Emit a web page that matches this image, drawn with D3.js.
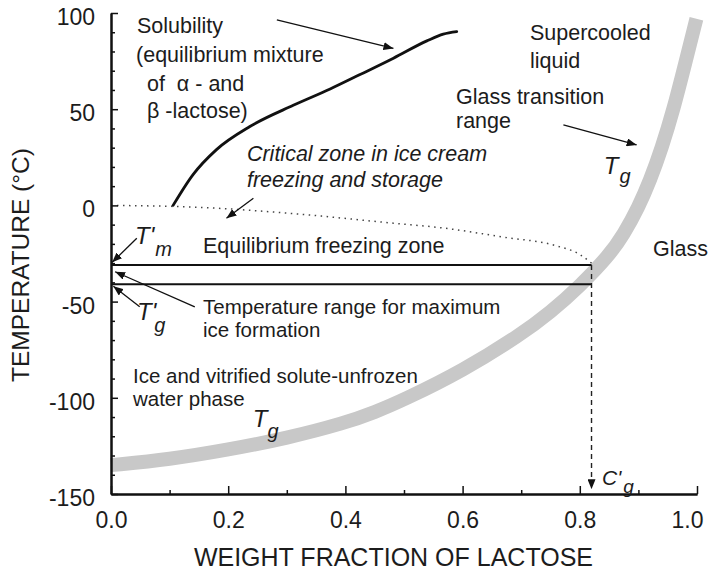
<!DOCTYPE html>
<html><head><meta charset="utf-8">
<script src="https://cdn.jsdelivr.net/npm/d3@7"></script>
<style>
body{margin:0;background:#fff}
text{font-family:"Liberation Sans",Arial,sans-serif;fill:#1c1c1c}
</style>
</head><body>
<svg id="chart" width="713" height="574"></svg>
<script>
// ---- data ----
const solubilityX = [0.106,0.140,0.180,0.237,0.311,0.374,0.425,0.482,0.539,0.567,0.590];
const solubilityY = [0,16,29,41,52,60.5,68,76.5,85.5,89,90.3];
const tgX = [0.0,0.1,0.2,0.3,0.4,0.45,0.5,0.6,0.7,0.75,0.8,0.85,0.875,0.9,0.92,0.94,0.96,0.98,0.999];
const tgY = [-135,-132,-127,-121,-113,-107.5,-101,-86,-67,-55.5,-42,-26,-15,-1,13,30,50,74,97];
const criticalX = [0,0.15,0.32,0.49,0.56,0.67,0.76,0.80,0.82];
const criticalY = [0,-1,-4.5,-9.5,-11.5,-16.5,-21,-25.5,-30];
const tmPrime = -31;      // T'm
const tgPrime = -41;      // T'g
const cgPrime = 0.82;     // C'g
const cgArrowEnd = -147.5;
const xMajor = [0,0.2,0.4,0.6,0.8,1.0];
const xMajorLabels = ["0.0","0.2","0.4","0.6","0.8","1.0"];
const xMinor = [0.1,0.3,0.5,0.7,0.9];
const yMajor = [-150,-100,-50,0,50,100];
const yMajorLabels = ["-150","-100","-50","0","50","100"];
const yMinor = d3.range(-140,100,10).filter(v => v % 50 !== 0);
const xTitle = "WEIGHT FRACTION OF LACTOSE";
const yTitle = "TEMPERATURE (°C)";

// annotation texts anchored in data coordinates
const notes = [
  {t:"Solubility", x:0.0444, y:89.6},
  {t:"(equilibrium mixture", x:0.0427, y:74.5},
  {t:"of  α - and", x:0.0614, y:59.5},
  {t:"β -lactose)", x:0.0614, y:45.4},
  {t:"Supercooled", x:0.715, y:86.0},
  {t:"liquid", x:0.715, y:71.4},
  {t:"Glass transition", x:0.5887, y:52.7},
  {t:"range", x:0.5887, y:40.2},
  {t:"Critical zone in ice cream", x:0.232, y:23.3, it:true},
  {t:"freezing and storage", x:0.232, y:9.6, it:true},
  {t:"Equilibrium freezing zone", x:0.157, y:-24.7},
  {t:"Glass", x:0.925, y:-26.3},
  {t:"Temperature range for maximum", x:0.157, y:-56.4, s:true},
  {t:"ice formation", x:0.157, y:-68.4, s:true},
  {t:"Ice and vitrified solute-unfrozen", x:0.0375, y:-92.4, s:true},
  {t:"water phase", x:0.0375, y:-104.3, s:true}
];
// symbol labels: main part and subscript offsets (px)
const symbols = [
  {main:"T'", sub:"m", x:0.041, y:-20.2, dx:1, dy:12},
  {main:"T'", sub:"g", x:0.0444, y:-59.6, dx:-2, dy:12},
  {main:"T", sub:"g", x:0.841, y:16.3, dx:1, dy:9},
  {main:"T", sub:"g", x:0.242, y:-115.2, dx:0, dy:11},
  {main:"C'", sub:"g", x:0.838, y:-145.4, dx:2, dy:8, small:true}
];
// arrows [x1,y1,x2,y2] in data units
const arrows = [
  [0.283,96.4,0.482,81.6],
  [0.772,41.8,0.897,31.4],
  [0.243,3.7,0.197,-6.7],
  [0.044,-17.1,0.002,-29.6],
  [0.143,-52.7,0.007,-34.5],
  [0.049,-52.7,0.004,-42.0]
];

// ---- chart ----
const W = 713, H = 574;
const m = {left:111, right:16, top:13, bottom:80};
const svg = d3.select("#chart");
svg.append("rect").attr("width",W).attr("height",H).attr("fill","#fff");

const x = d3.scaleLinear().domain([0,1]).range([m.left, W-m.right]);
const y = d3.scaleLinear().domain([-150,100]).range([H-m.bottom, m.top]);

const defs = svg.append("defs");
defs.append("marker").attr("id","ah").attr("markerUnits","userSpaceOnUse")
  .attr("viewBox","0 0 10 8").attr("refX",10).attr("refY",4)
  .attr("markerWidth",10).attr("markerHeight",8).attr("orient","auto")
  .append("path").attr("d","M0,0 L10,4 L0,8 Z").attr("fill","#111");

// glass transition band
const tgData = tgX.map((v,i)=>[v,tgY[i]]);
svg.append("path").datum(tgData)
  .attr("d", d3.line().x(d=>x(d[0])).y(d=>y(d[1])).curve(d3.curveBasis))
  .attr("fill","none").attr("stroke","#c8c8c8").attr("stroke-width",14).attr("stroke-linecap","butt");

// dotted critical-zone curve
const critData = criticalX.map((v,i)=>[v,criticalY[i]]);
svg.append("path").datum(critData)
  .attr("d", d3.line().x(d=>x(d[0])).y(d=>y(d[1])).curve(d3.curveMonotoneX))
  .attr("fill","none").attr("stroke","#444").attr("stroke-width",1.5).attr("stroke-dasharray","1.5,4.5");

// solubility curve
const solData = solubilityX.map((v,i)=>[v,solubilityY[i]]);
svg.append("path").datum(solData)
  .attr("d", d3.line().x(d=>x(d[0])).y(d=>y(d[1])).curve(d3.curveMonotoneX))
  .attr("fill","none").attr("stroke","#111").attr("stroke-width",2.8).attr("stroke-linecap","round");

// horizontal lines T'm and T'g
[tmPrime, tgPrime].forEach(v=>{
  svg.append("line").attr("x1",x(0)).attr("x2",x(cgPrime)).attr("y1",y(v)).attr("y2",y(v))
    .attr("stroke","#111").attr("stroke-width",2);
});
// dashed vertical to C'g
svg.append("line").attr("x1",x(cgPrime)).attr("x2",x(cgPrime)).attr("y1",y(tmPrime)).attr("y2",y(cgArrowEnd))
  .attr("stroke","#222").attr("stroke-width",1.4).attr("stroke-dasharray","5,4").attr("marker-end","url(#ah)");

// arrows
arrows.forEach(a=>{
  svg.append("line").attr("x1",x(a[0])).attr("y1",y(a[1])).attr("x2",x(a[2])).attr("y2",y(a[3]))
    .attr("stroke","#111").attr("stroke-width",1.3).attr("marker-end","url(#ah)");
});

// axes
const gy = svg.append("g").attr("transform",`translate(${m.left},0)`);
gy.call(d3.axisLeft(y).tickValues(yMinor).tickSize(-4).tickSizeOuter(0).tickFormat(""));
gy.append("g").call(d3.axisLeft(y).tickValues(yMajor).tickSize(-7).tickSizeOuter(0).tickPadding(16)
  .tickFormat((d,i)=>yMajorLabels[i]));
const gx = svg.append("g").attr("transform",`translate(0,${H-m.bottom})`);
gx.call(d3.axisBottom(x).tickValues(xMinor).tickSize(-4).tickSizeOuter(0).tickFormat(""));
gx.append("g").call(d3.axisBottom(x).tickValues(xMajor).tickSize(-8).tickSizeOuter(0).tickPadding(18)
  .tickFormat((d,i)=>xMajorLabels[i]));
svg.selectAll(".domain").attr("stroke","#111").attr("stroke-width",2);
svg.selectAll(".tick line").attr("stroke","#111").attr("stroke-width",1.5);
svg.selectAll(".tick text").attr("font-family",'"Liberation Sans",Arial,sans-serif')
  .attr("font-size",23).attr("fill","#1c1c1c");
gy.selectAll(".tick text").attr("dy","11.5");
gx.selectAll(".tick text").filter(d=>d===1).attr("dx",-10);

// axis titles
svg.append("text").attr("x",x(0.482)).attr("y",566).attr("text-anchor","middle")
  .attr("font-size",25).text(xTitle);
svg.append("text").attr("transform",`translate(29,${y(-31)}) rotate(-90)`).attr("text-anchor","middle")
  .attr("font-size",24.5).text(yTitle);

// annotation texts
notes.forEach(n=>{
  svg.append("text").attr("x",x(n.x)).attr("y",y(n.y)).attr("font-size",n.s?20.5:21.5)
    .attr("font-style",n.it?"italic":"normal").style("white-space","pre").text(n.t);
});
symbols.forEach(s=>{
  const t = svg.append("text").attr("x",x(s.x)).attr("y",y(s.y)).attr("font-style","italic");
  t.append("tspan").attr("font-size",s.small?21:24).text(s.main);
  t.append("tspan").attr("font-size",s.small?19:20).attr("dx",s.dx).attr("dy",s.dy).text(s.sub);
});
</script>
</body></html>
